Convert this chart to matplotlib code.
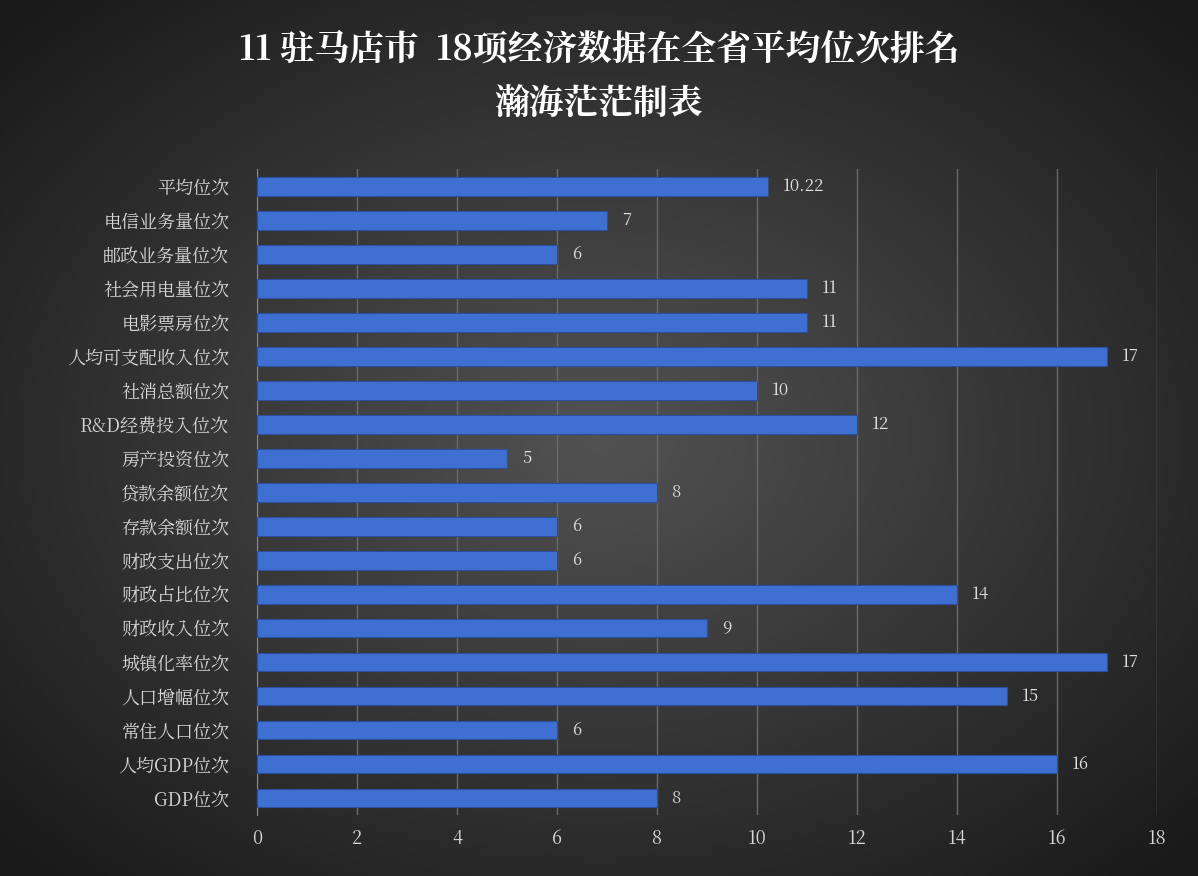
import numpy as np
import matplotlib
matplotlib.use("Agg")
import matplotlib.pyplot as plt
from matplotlib import font_manager

# 找一个可用的中文字体
cjk = [f.name for f in font_manager.fontManager.ttflist if "CJK" in f.name]
cjk_name = "Noto Sans CJK SC" if "Noto Sans CJK SC" in cjk else (cjk[0] if cjk else "DejaVu Sans")
plt.rcParams["font.family"] = [cjk_name, "DejaVu Sans"]

# 数据（从上到下）
categories = ["平均位次", "电信业务量位次", "邮政业务量位次", "社会用电量位次", "电影票房位次",
              "人均可支配收入位次", "社消总额位次", "R&D经费投入位次", "房产投资位次", "贷款余额位次",
              "存款余额位次", "财政支出位次", "财政占比位次", "财政收入位次", "城镇化率位次",
              "人口增幅位次", "常住人口位次", "人均GDP位次", "GDP位次"]
values = [10.22, 7, 6, 11, 11, 17, 10, 12, 5, 8, 6, 6, 14, 9, 17, 15, 6, 16, 8]
labels = ["10.22", "7", "6", "11", "11", "17", "10", "12", "5", "8", "6", "6", "14", "9",
          "17", "15", "6", "16", "8"]
xticks = [0, 2, 4, 6, 8, 10, 12, 14, 16, 18]

fig = plt.figure(figsize=(11.98, 8.76), dpi=100)

# 径向渐变背景
bg = fig.add_axes([0, 0, 1, 1])
yy, xx = np.mgrid[-1:1:300j, -1:1:400j]
r = np.sqrt(xx ** 2 + yy ** 2)
bg.imshow(np.clip(1 - r / 1.45, 0, 1), cmap=matplotlib.colors.LinearSegmentedColormap.from_list(
    "bg", ["#181818", "#525252"]), aspect="auto", extent=[0, 1, 0, 1])
bg.axis("off")

ax = fig.add_axes([0.2145, 0.0696, 0.7513, 0.737])
ax.set_facecolor("none")
y = np.arange(len(categories))[::-1]
ax.barh(y, values, height=0.55, color="#3f6fd1", edgecolor="#2a4f9e", linewidth=0.8, zorder=3)
for yi, v, t in zip(y, values, labels):
    ax.text(v + 0.3, yi, t, va="center", ha="left", color="#e0e0e0", fontsize=12)

ax.set_xlim(0, 18)
ax.set_ylim(-0.5, len(categories) - 0.5)
ax.set_xticks(xticks)
ax.set_yticks(y)
ax.set_yticklabels(categories)
ax.tick_params(colors="#d8d8d8", labelsize=13, length=0)
ax.tick_params(axis="x", pad=10)
ax.tick_params(axis="y", pad=20)
ax.grid(axis="x", color="#6a6a6a", linewidth=1, zorder=0)
for s in ax.spines.values():
    s.set_visible(False)
ax.spines["left"].set_visible(True)
ax.spines["left"].set_color("#8a8a8a")

fig.text(0.5, 0.943, "11 驻马店市  18项经济数据在全省平均位次排名", ha="center", va="center",
         color="white", fontsize=25, fontweight="bold")
fig.text(0.5, 0.88, "瀚海茫茫制表", ha="center", va="center",
         color="white", fontsize=25, fontweight="bold")

fig.savefig("out.png", dpi=100)
